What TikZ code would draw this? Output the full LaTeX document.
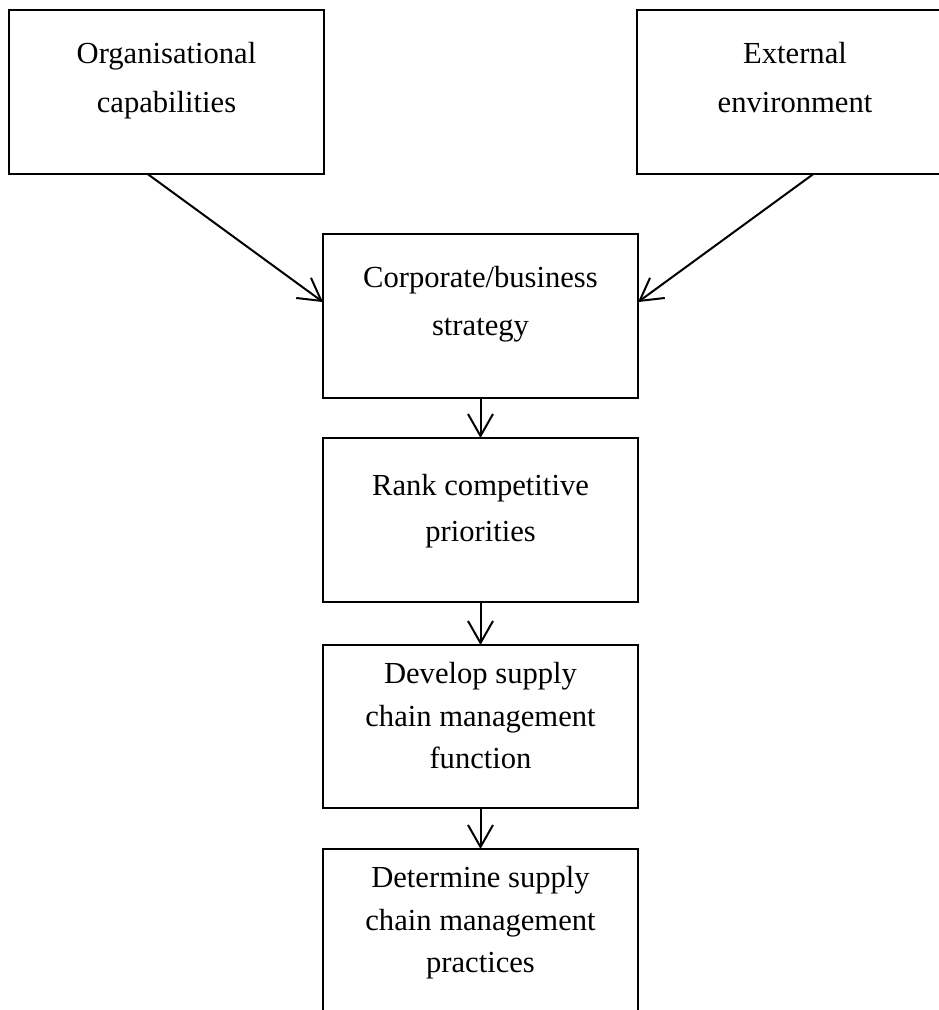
\documentclass[tikz,border=0pt]{standalone}
\usepackage{fontspec}
\setmainfont{Liberation Serif}
\usetikzlibrary{arrows.meta,calc}
\begin{document}
\begin{tikzpicture}[x=1pt,y=-1pt,
  box/.style={draw=black, line width=2pt, minimum width=315pt,
    minimum height=164pt, inner sep=0pt, outer sep=0pt},
  txt/.style={anchor=base, inner sep=0pt, font=\fontsize{30.6}{36}\selectfont},
  flow/.style={line width=2pt,
    -{Straight Barb[length=22pt,width=25pt,line width=2pt]}}]

% page frame
\useasboundingbox (0,0) rectangle (939,1010);
\clip (0,0) rectangle (939,1010);

% boxes
\node[box] (org)  at (166.5,92)  {};
\node[box] (ext)  at (794.5,92)  {};
\node[box] (corp) at (480.5,316) {};
\node[box] (rank) at (480.5,520) {};
\node[box, minimum height=163pt] (dev) at (480.5,726.5) {};
\node[box] (det)  at (480.5,931) {};

% box texts, one node per line
\node[txt] (org-a) at (166.5,63)  {Organisational};
\node[txt] (org-b) at (166.5,112) {capabilities};

\node[txt] (ext-a) at (795,63)  {External};
\node[txt] (ext-b) at (795,112) {environment};

\node[txt] (corp-a) at (480.5,287) {Corporate/business};
\node[txt] (corp-b) at (480.5,335) {strategy};

\node[txt] (rank-a) at (480.5,495) {Rank competitive};
\node[txt] (rank-b) at (480.5,541) {priorities};

\node[txt] (dev-a) at (480.5,683) {Develop supply};
\node[txt] (dev-b) at (480.5,726) {chain management};
\node[txt] (dev-c) at (480.5,768) {function};

\node[txt] (det-a) at (480.5,887) {Determine supply};
\node[txt] (det-b) at (480.5,930) {chain management};
\node[txt] (det-c) at (480.5,972) {practices};

% connectors
\draw[flow] ($(org.south west)!0.44!(org.south east)$)
         -- ($(corp.north west)!0.415!(corp.south west)$);
\draw[flow] ($(ext.south west)!0.56!(ext.south east)$)
         -- ($(corp.north east)!0.415!(corp.south east)$);
\draw[flow] (corp.south) -- (rank.north);
\draw[flow] (rank.south) -- (dev.north);
\draw[flow] (dev.south)  -- (det.north);
\end{tikzpicture}
\end{document}
